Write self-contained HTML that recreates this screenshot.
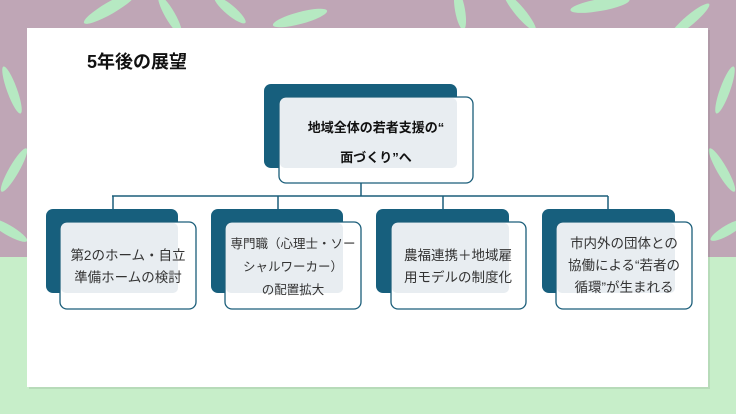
<!DOCTYPE html>
<html><head><meta charset="utf-8"><style>
html,body{margin:0;padding:0}
body{width:736px;height:414px;overflow:hidden;position:relative;background:#c7eec9;font-family:"Liberation Sans","Noto Sans CJK JP",sans-serif}
</style></head><body>
<svg width="736" height="414" viewBox="0 0 736 414" xmlns="http://www.w3.org/2000/svg" style="position:absolute;left:0;top:0">
<rect x="0" y="0" width="736" height="257" fill="#bfa6b6"/>
<g fill="#b6ecc3" opacity="0.95">
<ellipse cx="110" cy="8" rx="30" ry="6" transform="rotate(-30 110 8)"/>
<ellipse cx="170" cy="15" rx="22" ry="5" transform="rotate(60 170 15)"/>
<ellipse cx="300" cy="18" rx="28" ry="6" transform="rotate(-15 300 18)"/>
<ellipse cx="230" cy="10" rx="20" ry="5" transform="rotate(40 230 10)"/>
<ellipse cx="460" cy="10" rx="20" ry="5" transform="rotate(80 460 10)"/>
<ellipse cx="520" cy="12" rx="24" ry="5" transform="rotate(50 520 12)"/>
<ellipse cx="600" cy="5" rx="30" ry="6" transform="rotate(-10 600 5)"/>
<ellipse cx="690" cy="20" rx="25" ry="5" transform="rotate(-40 690 20)"/>
<ellipse cx="12" cy="90" rx="25" ry="5" transform="rotate(70 12 90)"/>
<ellipse cx="14" cy="170" rx="25" ry="5" transform="rotate(-60 14 170)"/>
<ellipse cx="8" cy="230" rx="22" ry="5" transform="rotate(30 8 230)"/>
<ellipse cx="725" cy="90" rx="25" ry="5" transform="rotate(-70 725 90)"/>
<ellipse cx="722" cy="170" rx="25" ry="5" transform="rotate(60 722 170)"/>
<ellipse cx="728" cy="230" rx="20" ry="5" transform="rotate(-30 728 230)"/>
</g>
<rect x="29" y="30" width="681" height="359" fill="#000" opacity="0.08"/>
<rect x="27" y="28" width="681" height="359" fill="#ffffff"/>
<text x="87" y="68" font-size="18" font-weight="bold" fill="#111">5年後の展望</text>
<g stroke="#1b5e7a" stroke-width="1.5" fill="none">
<line x1="361" y1="183" x2="361" y2="196"/>
<line x1="112" y1="196" x2="608" y2="196"/>
<line x1="113" y1="196" x2="113" y2="209"/>
<line x1="278" y1="196" x2="278" y2="209"/>
<line x1="443" y1="196" x2="443" y2="209"/>
<line x1="608" y1="196" x2="608" y2="209"/>
</g>
<rect x="264" y="84" width="193" height="84" rx="7" fill="#175f7d"/>
<rect x="279" y="97" width="194" height="86" rx="7" fill="#fff" stroke="#1b5e7a" stroke-width="1.3"/>
<rect x="280" y="98" width="177" height="70" rx="5" fill="#e8edf1"/>
<text x="376" y="132" font-size="13" font-weight="bold" text-anchor="middle" fill="#111">地域全体の若者支援の“</text>
<text x="376" y="162" font-size="13" font-weight="bold" text-anchor="middle" fill="#111">面づくり”へ</text>
<g>
<rect x="46" y="209" width="132" height="84" rx="7" fill="#175f7d"/>
<rect x="60" y="222" width="136" height="87" rx="7" fill="#fff" stroke="#1b5e7a" stroke-width="1.3"/>
<rect x="61" y="223" width="117" height="70" rx="5" fill="#e8edf1"/>
<rect x="211" y="209" width="132" height="84" rx="7" fill="#175f7d"/>
<rect x="225" y="222" width="136" height="87" rx="7" fill="#fff" stroke="#1b5e7a" stroke-width="1.3"/>
<rect x="226" y="223" width="117" height="70" rx="5" fill="#e8edf1"/>
<rect x="376" y="209" width="133" height="84" rx="7" fill="#175f7d"/>
<rect x="391" y="222" width="135" height="87" rx="7" fill="#fff" stroke="#1b5e7a" stroke-width="1.3"/>
<rect x="392" y="223" width="117" height="70" rx="5" fill="#e8edf1"/>
<rect x="542" y="209" width="133" height="84" rx="7" fill="#175f7d"/>
<rect x="556" y="222" width="136" height="87" rx="7" fill="#fff" stroke="#1b5e7a" stroke-width="1.3"/>
<rect x="557" y="223" width="118" height="70" rx="5" fill="#e8edf1"/>
</g>
<g font-size="13.5" fill="#333" text-anchor="middle">
<text x="128" y="260">第2のホーム・自立</text>
<text x="128" y="282">準備ホームの検討</text>
<text x="293" y="248" font-size="12.5">専門職（心理士・ソー</text>
<text x="293" y="271" font-size="12.5">シャルワーカー）</text>
<text x="293" y="294" font-size="12.5">の配置拡大</text>
<text x="458" y="260">農福連携＋地域雇</text>
<text x="458" y="282">用モデルの制度化</text>
<text x="624" y="248">市内外の団体との</text>
<text x="624" y="270">協働による“若者の</text>
<text x="624" y="292">循環”が生まれる</text>
</g>
</svg>
</body></html>
